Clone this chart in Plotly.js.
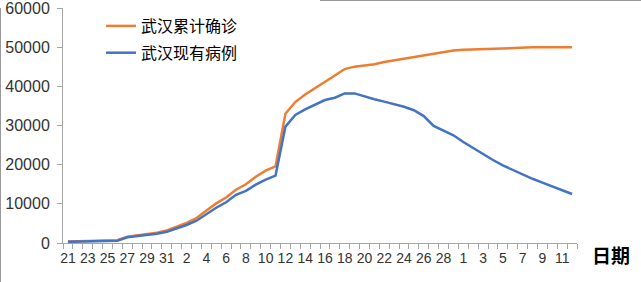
<!DOCTYPE html>
<html>
<head>
<meta charset="utf-8">
<script src="https://cdn.plot.ly/plotly-3.0.1.min.js"></script>
<style>
  html, body { margin: 0; padding: 0; background: #fff; }
  #chart { width: 641px; height: 282px; }
</style>
</head>
<body>
<div id="chart"></div>
<script>
// Categories: dates from Jan 21 to Mar 12 (2020)
const dates = [
  '1月21日','1月22日','1月23日','1月24日','1月25日','1月26日','1月27日','1月28日','1月29日','1月30日','1月31日',
  '2月1日','2月2日','2月3日','2月4日','2月5日','2月6日','2月7日','2月8日','2月9日','2月10日',
  '2月11日','2月12日','2月13日','2月14日','2月15日','2月16日','2月17日','2月18日','2月19日','2月20日',
  '2月21日','2月22日','2月23日','2月24日','2月25日','2月26日','2月27日','2月28日','2月29日',
  '3月1日','3月2日','3月3日','3月4日','3月5日','3月6日','3月7日','3月8日','3月9日','3月10日','3月11日','3月12日'
];
// Tick labels (every second category shown)
const tickLabels = [
  '21','','23','','25','','27','','29','','31',
  '','2','','4','','6','','8','','10',
  '','12','','14','','16','','18','','20',
  '','22','','24','','26','','28','',
  '1','','3','','5','','7','','9','','11',''
];
// 武汉累计确诊
const cumulative = [
  400, 440, 495, 572, 618, 698, 1590, 1905, 2261, 2639, 3215,
  4109, 5142, 6384, 8351, 10117, 11618, 13603, 14982, 16902, 18454,
  19558, 32994, 35991, 37914, 39462, 41152, 42752, 44412, 45027, 45346,
  45660, 46201, 46607, 47071, 47441, 47824, 48137, 48557, 49122,
  49315, 49426, 49540, 49671, 49797, 49871, 49912, 49948, 49965, 49978, 49986, 49991
];
// 武汉现有病例
const current = [
  300, 380, 440, 510, 550, 600, 1450, 1700, 2000, 2350, 2850,
  3700, 4600, 5700, 7400, 9000, 10400, 12300, 13300, 14900, 16200,
  17200, 29700, 32700, 34100, 35200, 36500, 37100, 38200, 38200, 37400,
  36700, 36100, 35500, 34800, 33900, 32400, 29900, 28700, 27500,
  25800, 24200, 22700, 21200, 19800, 18600, 17400, 16400, 15400, 14400, 13400, 12500
];
const yTicks = [0, 10000, 20000, 30000, 40000, 50000, 60000];

const traces = [
  { x: dates, y: cumulative, type: 'scatter', mode: 'lines', name: '武汉累计确诊',
    legendgroup: 'a', line: { color: '#ED7D31', width: 2.5 } },
  { x: dates, y: current, type: 'scatter', mode: 'lines', name: '武汉现有病例',
    legendgroup: 'b', line: { color: '#4472C4', width: 2.5 } }
];

const W = 641, H = 282, L = 63, R = 64, T = 8, B = 39;
const pw = W - L - R, ph = H - T - B;
const px = v => (v - L) / pw;
const py = v => (H - B - v) / ph;

const layout = {
  width: W, height: H,
  margin: { l: L, r: R, t: T, b: B, pad: 0 },
  paper_bgcolor: '#ffffff', plot_bgcolor: '#ffffff',
  showlegend: true,
  legend: {
    x: px(101), y: py(9), xanchor: 'left', yanchor: 'top',
    bgcolor: 'rgba(0,0,0,0)', borderwidth: 0,
    font: { family: 'Noto Sans CJK SC, sans-serif', size: 16, color: '#000' },
    traceorder: 'grouped', tracegroupgap: 3
  },
  xaxis: {
    type: 'category', categoryorder: 'array', categoryarray: dates,
    tickmode: 'array', tickvals: dates, ticktext: tickLabels,
    tickson: 'boundaries', ticks: 'outside', ticklen: 5, tickcolor: '#a6a6a6',
    showline: true, linecolor: '#a6a6a6', linewidth: 1,
    showgrid: false, zeroline: false, tickangle: 0,
    ticklabelstandoff: 2,
    tickfont: { family: 'Liberation Sans Narrow, Liberation Sans, Arial, sans-serif', size: 14, color: '#333' },
    range: [-0.5, dates.length - 0.5], fixedrange: true
  },
  yaxis: {
    range: [0, 60000], tickmode: 'array', tickvals: yTicks, ticktext: yTicks.map(String),
    ticks: 'outside', ticklen: 5, tickcolor: '#a6a6a6',
    showline: true, linecolor: '#a6a6a6', linewidth: 1,
    showgrid: false, zeroline: false,
    ticklabelstandoff: 4, ticklabeloverflow: 'allow',
    tickfont: { family: 'Liberation Sans, Arial, sans-serif', size: 16, color: '#333' },
    fixedrange: true
  },
  annotations: [
    { text: '<b>日期</b>', xref: 'paper', yref: 'paper', x: px(611), y: py(254),
      xanchor: 'center', yanchor: 'middle', showarrow: false,
      font: { family: 'Noto Sans CJK SC, sans-serif', size: 19, color: '#000' } }
  ],
  shapes: [
    { type: 'line', xref: 'paper', yref: 'paper', x0: px(0.5), x1: px(0.5), y0: py(8), y1: py(282),
      line: { color: '#999', width: 1 } },
    { type: 'line', xref: 'paper', yref: 'paper', x0: px(320), x1: px(641), y0: py(0.5), y1: py(0.5),
      line: { color: '#999', width: 1 } }
  ]
};

Plotly.newPlot('chart', traces, layout, { displayModeBar: false, staticPlot: true });
</script>
</body>
</html>
